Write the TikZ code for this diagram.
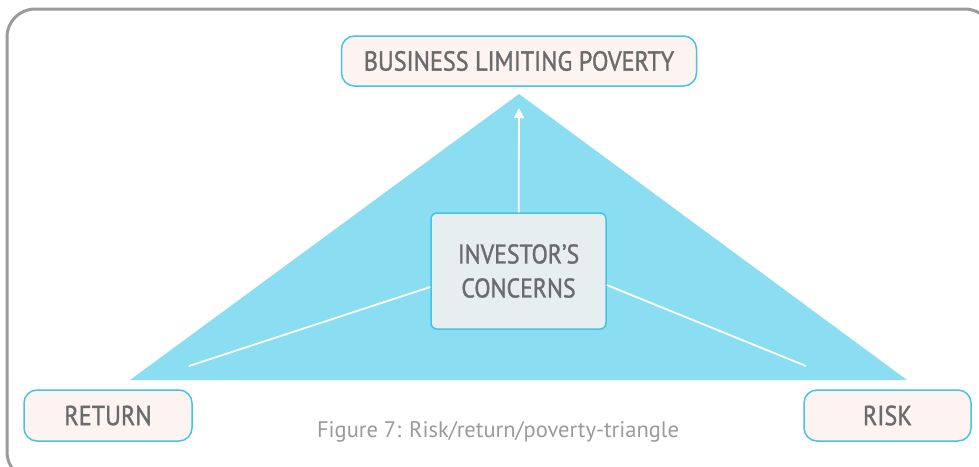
\documentclass[tikz,border=0pt]{standalone}
\usepackage{fontspec}
\setmainfont{PT Sans}
\newfontfamily\labelfont[FakeStretch=0.88,FakeBold=1.2]{PT Sans}
\usepackage{tikz}
\usetikzlibrary{arrows.meta}

\definecolor{triblue}{HTML}{8BDDF2}
\definecolor{boxline}{HTML}{45C3E5}
\definecolor{pinkfill}{HTML}{FDF3F1}
\definecolor{greyfill}{HTML}{E6EEF0}
\definecolor{labelgrey}{HTML}{6B6B6B}
\definecolor{captiongrey}{HTML}{9A9A9A}
\definecolor{framegrey}{HTML}{9B9B9B}

\tikzset{
  goal/.style={draw=boxline, line width=1.5pt, fill=pinkfill, rounded corners=13pt,
    text=labelgrey, font=\labelfont\fontsize{27.5}{30}\selectfont, inner sep=0pt},
  concern/.style={draw=boxline, line width=1.5pt, fill=greyfill, rounded corners=6pt,
    text=labelgrey, font=\labelfont\fontsize{27}{34}\selectfont, align=center, inner sep=0pt},
  spoke/.style={white, line width=1.8pt}
}

\begin{document}
\begin{tikzpicture}[x=1pt,y=-1pt]
  \useasboundingbox (0,0) rectangle (979,466);

  % frame
  \draw[framegrey, line width=3pt, rounded corners=28pt] (7,9) rectangle (993,480);

  % triangle
  \coordinate (apex) at (519,94);
  \coordinate (bl) at (130,380);
  \coordinate (br) at (907,380);
  \fill[triblue] (apex) -- (bl) -- (br) -- cycle;

  \node[goal, minimum width=355pt, minimum height=50pt] at (519,61) (blp){BUSINESS LIMITING POVERTY};
  \node[concern, minimum width=175pt, minimum height=116pt] at (518.5,271) (ic){INVESTOR’S\\CONCERNS};
  \node[goal, minimum width=168pt, minimum height=51pt] at (108,415.5) (ret){RETURN};
  \node[goal, minimum width=167pt, minimum height=51pt] at (887.5,415.5) (risk){RISK};

  \coordinate (tip) at (519,108);
  \coordinate (retend) at (189,366);
  \coordinate (riskend) at (806,366);

  \draw[spoke,-{Triangle[width=10pt,length=10pt]}] (ic) -- (tip);
  \draw[spoke] ([yshift=-16pt]ic.west) -- (retend);
  \draw[spoke] ([yshift=-14pt]ic.east) -- (riskend);

  \node[text=captiongrey, font=\fontsize{22.5}{24}\selectfont] at (498,432) (cap){Figure 7: Risk/return/poverty-triangle};
\end{tikzpicture}
\end{document}
